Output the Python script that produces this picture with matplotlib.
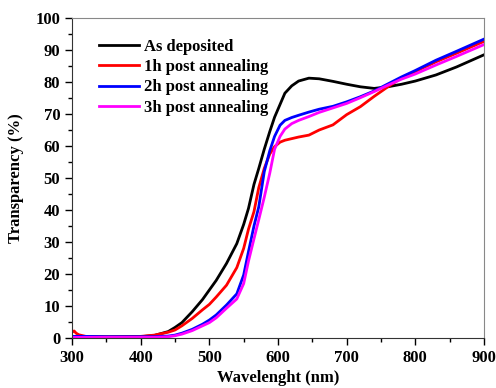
import numpy as np
import matplotlib
matplotlib.use('Agg')
import matplotlib.pyplot as plt
from matplotlib.ticker import MultipleLocator

plt.rcParams['font.family'] = ['Liberation Serif', 'DejaVu Serif']
plt.rcParams['font.weight'] = 'bold'

# wavelength grid (nm) and transparency (%)
wl = [300, 303, 306, 310, 320, 350, 400, 420, 440, 450, 460, 475, 490, 500, 510,
      525, 540, 550, 557, 565, 572, 580, 588, 595, 603, 610, 620, 630, 645, 660,
      680, 700, 720, 740, 760, 780, 800, 830, 860, 900]

as_dep = [0.3, 0.3, 0.3, 0.3, 0.3, 0.3, 0.4, 0.8, 2.0, 3.3, 4.8, 8.2, 12.0, 15.0, 18.0,
          23.3, 29.5, 35.5, 40.5, 48.0, 53.0, 59.0, 64.5, 69.0, 73.0, 76.5, 78.8, 80.3, 81.2, 81.0,
          80.2, 79.3, 78.5, 78.0, 78.5, 79.3, 80.3, 82.2, 84.7, 88.5]

post_1h = [1.8, 2.2, 1.5, 1.0, 0.5, 0.4, 0.5, 0.9, 1.8, 2.5, 3.8, 6.1, 8.8, 10.5, 12.8,
           16.5, 22.0, 28.0, 34.0, 39.5, 47.0, 53.0, 57.5, 59.8, 61.2, 61.8, 62.3, 62.8, 63.4, 65.0,
           66.6, 69.8, 72.3, 75.5, 78.5, 81.3, 83.3, 86.3, 89.0, 92.7]

post_2h = [0.5, 0.5, 0.5, 0.5, 0.5, 0.4, 0.4, 0.4, 0.6, 0.9, 1.5, 2.7, 4.3, 5.6, 7.2,
           10.3, 13.8, 19.7, 27.0, 35.0, 41.0, 52.0, 58.5, 63.0, 66.5, 68.0, 68.9, 69.6, 70.6, 71.5,
           72.4, 73.8, 75.4, 77.2, 79.4, 81.6, 83.6, 86.8, 89.6, 93.4]

post_3h = [0.2, 0.2, 0.2, 0.2, 0.2, 0.2, 0.2, 0.2, 0.4, 0.7, 1.2, 2.3, 3.8, 4.8, 6.3,
           9.3, 12.2, 17.0, 24.0, 31.0, 37.0, 44.0, 51.5, 59.0, 63.0, 65.3, 67.0, 68.0, 69.2, 70.5,
           71.9, 73.3, 75.1, 77.0, 79.0, 80.9, 82.5, 85.3, 88.0, 91.7]

labels = ['As deposited', '1h post annealing', '2h post annealing', '3h post annealing']
colors = ['black', '#ff0000', '#0000ff', '#ff00ff']

fig = plt.figure(figsize=(4.96, 3.88), dpi=100)
ax = fig.add_axes([0.1452, 0.1289, 0.8306, 0.8247])

for y, lab, c in zip([as_dep, post_1h, post_2h, post_3h], labels, colors):
    ax.plot(wl, y, color=c, lw=2, label=lab)

ax.set_xlim(300, 900)
ax.set_ylim(0, 100)
ax.xaxis.set_major_locator(MultipleLocator(100))
ax.xaxis.set_minor_locator(MultipleLocator(50))
ax.yaxis.set_major_locator(MultipleLocator(10))
ax.yaxis.set_minor_locator(MultipleLocator(5))
ax.tick_params(which='both', direction='out', top=False, right=False, labelsize=12, width=1)
ax.tick_params(which='major', length=5)
ax.tick_params(which='minor', length=3)

for s in ['left', 'bottom']:
    ax.spines[s].set_color('#333333')
for s in ['top', 'right']:
    ax.spines[s].set_color('#888888')

ax.set_xlabel('Wavelenght (nm)', fontsize=12, fontweight='bold', labelpad=3)
ax.set_ylabel('Transparency (%)', fontsize=12, fontweight='bold', labelpad=8)

ax.legend(loc='upper left', bbox_to_anchor=(0.05, 0.955), frameon=False, fontsize=12,
          handlelength=2.4, handletextpad=0.3, labelspacing=0.25, borderaxespad=0)

fig.savefig('out.png', dpi=100)
